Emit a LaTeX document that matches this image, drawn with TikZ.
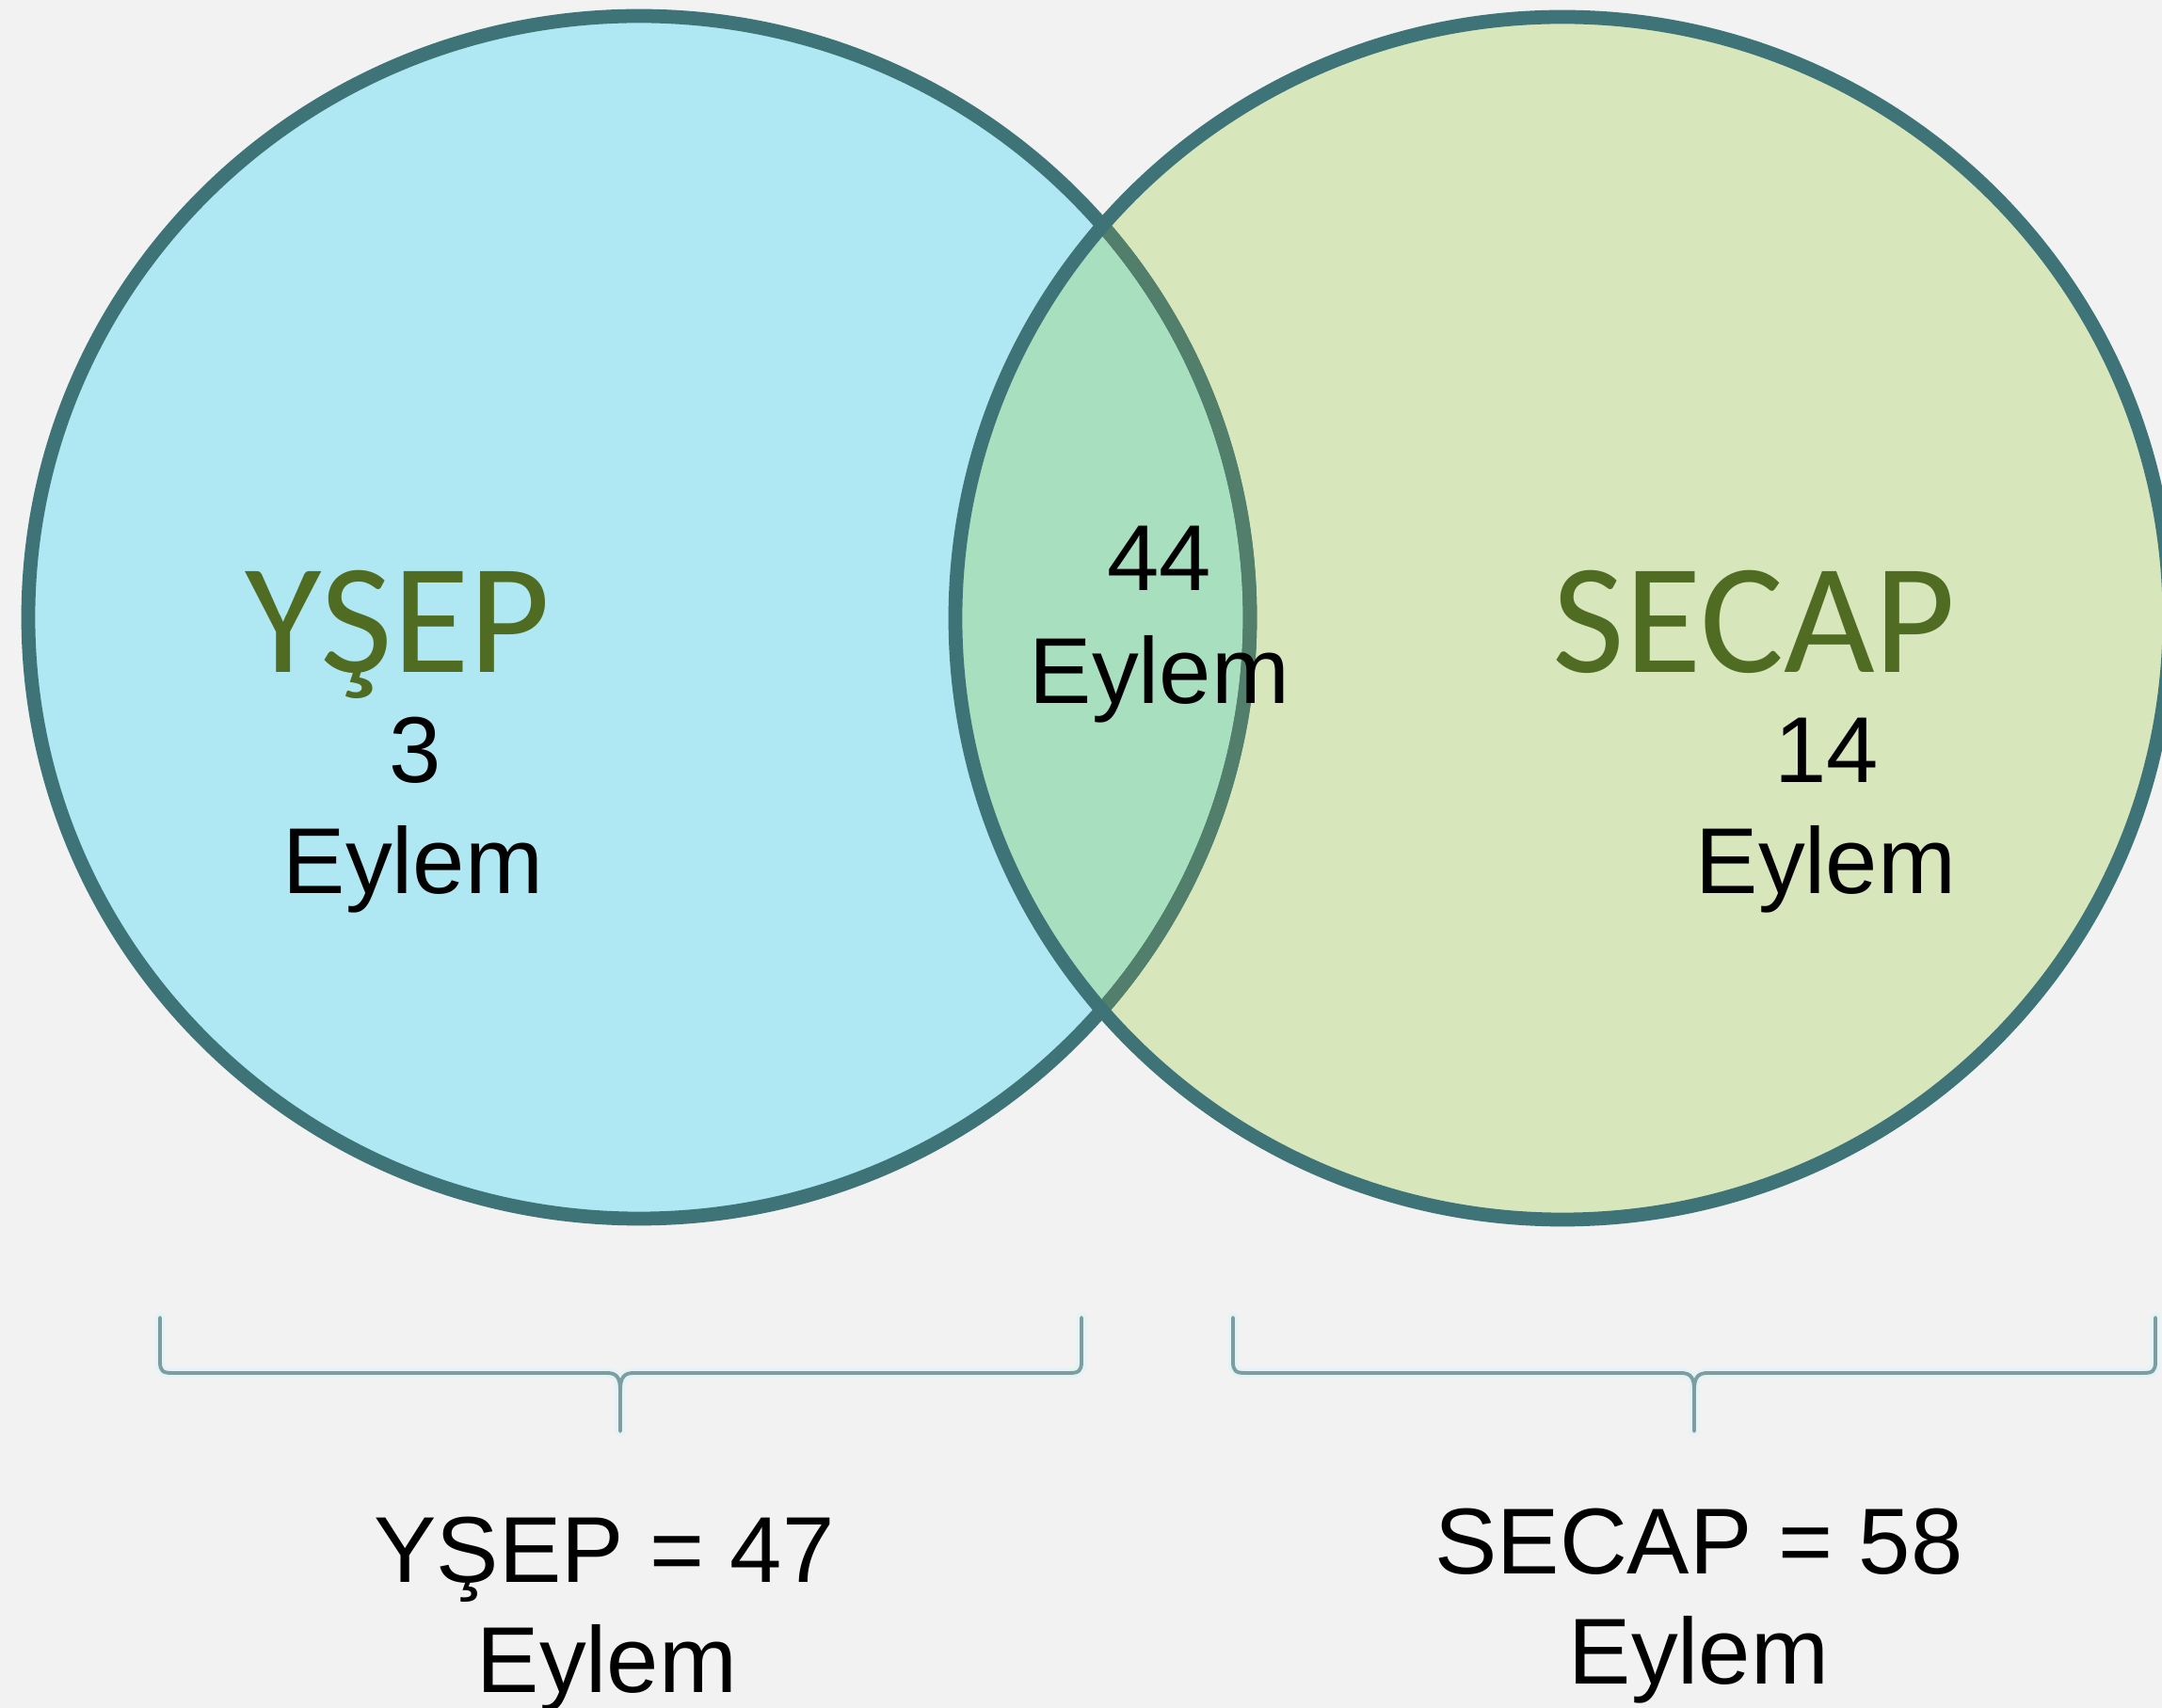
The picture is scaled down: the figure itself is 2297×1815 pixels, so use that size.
\documentclass[tikz,border=0pt]{standalone}
\usepackage{fontspec}
\setmainfont{Liberation Sans}
\newfontfamily\calib{Carlito}
\definecolor{bg}{HTML}{F2F2F2}
\definecolor{cyanfill}{HTML}{AFE8F2}
\definecolor{limefill}{HTML}{D8E6BC}
\definecolor{overlapfill}{HTML}{A8DFBF}
\definecolor{ringcol}{HTML}{3E7477}
\definecolor{ringblend}{HTML}{527F6C}
\definecolor{olive}{RGB}{79,108,34}
\definecolor{bracecol}{HTML}{7E9DA1}
\definecolor{bracehalo}{HTML}{E4F4F6}
\tikzset{
  ring/.style={line width=4.2pt, draw=ringcol},
  bigtitle/.style={anchor=base, text=olive, font=\calib\fontsize{47.5}{56}\selectfont, inner sep=0pt},
  count/.style={anchor=base, text=black, font=\fontsize{28.3}{34}\selectfont, inner sep=0pt},
  bracestyle/.style={draw=bracecol, line width=1.1pt, line join=round, line cap=round},
  bracehalostyle/.style={draw=bracehalo, line width=3pt, line join=round, line cap=round}
}
\begin{document}
\begin{tikzpicture}[x=0.1mm, y=-0.1mm]
\useasboundingbox (0,0) rectangle (2297,1815);
\fill[bg] (0,0) rectangle (2297,1815);
% circles
\fill[cyanfill] (679,656) ellipse [x radius=649, y radius=639];
\fill[limefill] (1660,657) ellipse [x radius=645, y radius=639];
\begin{scope}
  \clip (1660,657) ellipse [x radius=645, y radius=639];
  \fill[overlapfill] (679,656) ellipse [x radius=649, y radius=639];
\end{scope}
\draw[ring] (679,656) ellipse [x radius=649, y radius=639];
\begin{scope}
  \clip (1660,657) ellipse [x radius=645, y radius=639];
  \draw[ring, draw=ringblend] (679,656) ellipse [x radius=649, y radius=639];
\end{scope}
\draw[ring] (1660,657) ellipse [x radius=645, y radius=639];
% labels inside circles
\node[bigtitle] (ysep) at (423,715) {YŞEP};
\node[bigtitle] (secap) at (1864,715) {SECAP};
\node[count] (n3) at (441,832) {3};
\node[count] (e3) at (439,950) {Eylem};
\node[count] (n44) at (1232,628) {44};
\node[count] (e44) at (1232,748) {Eylem};
\node[count] (n14) at (1941,832) {14};
\node[count] (e14) at (1940,950) {Eylem};
% braces
\foreach \st in {bracehalostyle, bracestyle}{
\draw[\st] (170,1400) -- (170,1447) .. controls (170,1457) and (173,1459) .. (183,1459)
  -- (645,1459) .. controls (655,1459) and (659,1464) .. (659,1477) -- (659,1521)
  (659,1477) .. controls (659,1464) and (663,1459) .. (673,1459)
  -- (1136,1459) .. controls (1146,1459) and (1149,1457) .. (1149,1447) -- (1149,1400);
\draw[\st] (1310,1400) -- (1310,1447) .. controls (1310,1457) and (1313,1459) .. (1323,1459)
  -- (1786,1459) .. controls (1796,1459) and (1800,1464) .. (1800,1477) -- (1800,1521)
  (1800,1477) .. controls (1800,1464) and (1804,1459) .. (1814,1459)
  -- (2277,1459) .. controls (2287,1459) and (2290,1457) .. (2290,1447) -- (2290,1400);
}
% totals
\node[count] (tot1) at (642,1682) {YŞEP = 47};
\node[count] (tot1e) at (645,1799) {Eylem};
\node[count] (tot2) at (1805,1673) {SECAP = 58};
\node[count] (tot2e) at (1805,1790) {Eylem};
\end{tikzpicture}
\end{document}
